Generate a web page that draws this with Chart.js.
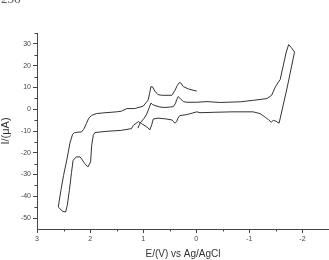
<!DOCTYPE html>
<html><head><meta charset="utf-8">
<script src="https://cdn.jsdelivr.net/npm/chart.js@4/dist/chart.umd.min.js"></script>
<style>
html,body{margin:0;padding:0;background:#fff;overflow:hidden}
#wrap{position:relative;width:329px;height:260px}
#note{position:absolute;left:1px;top:-8px;font:13px "Liberation Serif",serif;color:#555;line-height:13px}
</style></head><body>
<div id="wrap"><canvas id="c" width="329" height="260"></canvas><div id="note">256</div></div>
<script>
// Cyclic voltammogram trace, E in V vs Ag/AgCl, I in µA (in scan order)
const potential = [
 1.10,1.06,0.99,0.94,0.89,0.855,0.82,0.78,0.685,0.59,0.50,0.43,0.39,0.37,0.34,0.31,0.245,0.175,-0.01,-0.20,-0.45,-0.83,-1.08,-1.33,-1.42,-1.49,-1.55,-1.58,-1.64,-1.69,-1.74,-1.79,-1.85,
 -1.71,-1.56,-1.50,-1.45,-1.41,-1.36,-1.30,-1.20,-1.07,-0.69,-0.35,-0.07,
 -0.01,0.12,0.21,0.31,0.345,0.37,0.40,0.44,0.46,0.59,0.72,0.81,0.84,0.875,0.91,0.94,1.025,1.09,1.185,
 1.22,1.41,1.66,1.91,1.94,1.97,1.99,2.04,2.10,2.16,2.19,2.26,2.32,2.35,2.39,2.43,2.46,2.515,2.60,
 2.55,2.50,2.44,2.38,2.33,2.29,2.16,2.12,2.07,2.025,1.97,1.88,1.76,1.50,1.41,1.31,1.16,1.00,0.94,0.905,0.875,0.855,0.825,0.78,0.72,0.65,0.46,0.40,0.36,0.32,0.29,0.245,0.15,-0.01
];
const current = [
 -8.7,-6.4,-4.4,-2.6,0.5,2.8,2.1,1.7,1.0,0.8,1.0,1.2,2.8,4.3,5.8,5.1,3.5,3.2,3.2,3.5,3.1,3.4,4.1,4.9,6.4,10.3,12.6,13.6,20.2,25.8,29.7,28.3,26.2,
 9.7,-6.4,-5.5,-5.1,-6.0,-4.8,-3.7,-2.0,-1.2,-1.2,-1.4,-1.6,
 -1.2,-2.1,-2.6,-2.9,-4.1,-5.7,-6.4,-5.5,-4.9,-4.4,-4.1,-4.5,-7.2,-9.5,-8.5,-8.0,-6.7,-5.7,-7.4,
 -8.9,-9.7,-10.1,-10.7,-12.0,-16.6,-24.2,-26.5,-25.0,-22.8,-21.9,-21.9,-23.5,-29.0,-37.3,-44.2,-47.2,-46.9,-44.9,
 -37.3,-30.4,-23.5,-15.6,-11.5,-10.7,-10.4,-9.2,-6.6,-4.1,-2.8,-2.0,-1.7,-1.2,-0.9,0.3,0.3,1.4,3.2,4.3,7.8,10.3,10.3,8.3,6.7,6.4,6.4,8.7,10.8,12.2,12.0,10.4,9.3,8.3
];
const xTicks = [3,2,1,0,-1,-2];
const xMinorTicks = [2.5,1.5,0.5,-0.5,-1.5];
const yTicks = [30,20,10,0,-10,-20,-30,-40,-50];
const yMinorTicks = [35,25,15,5,-5,-15,-25,-35,-45];

const FONT = 'Liberation Sans, Arial, sans-serif';
const AX = '#444';

const minorTicks = {
  id: 'minorTicks',
  afterDraw(chart) {
    const {ctx, scales: {x, y}} = chart;
    ctx.save();
    ctx.strokeStyle = AX; ctx.lineWidth = 1;
    ctx.beginPath();
    xMinorTicks.forEach(v => { const p = Math.round(x.getPixelForValue(v)) + 0.5; ctx.moveTo(p, x.top); ctx.lineTo(p, x.top + 2.5); });
    yMinorTicks.forEach(v => { const p = Math.round(y.getPixelForValue(v)) + 0.5; ctx.moveTo(y.right, p); ctx.lineTo(y.right - 2.5, p); });
    ctx.stroke();
    ctx.restore();
  }
};

new Chart(document.getElementById('c'), {
  type: 'scatter',
  data: {
    datasets: [{
      data: potential.map((e, i) => ({x: e, y: current[i]})),
      showLine: true, borderColor: '#333', borderWidth: 1, pointRadius: 0, tension: 0, fill: false
    }]
  },
  options: {
    responsive: false, animation: false, devicePixelRatio: 1,
    layout: {padding: {top: 33, right: 0, bottom: 0, left: 0}},
    plugins: {legend: {display: false}, tooltip: {enabled: false}},
    scales: {
      x: {
        type: 'linear', reverse: true, min: -2.5, max: 3,
        afterBuildTicks: s => { s.ticks = xTicks.map(v => ({value: v})); },
        afterFit: s => { s.height = 31; },
        grid: {drawOnChartArea: false, drawTicks: true, tickLength: 4, tickColor: AX, tickWidth: 1},
        border: {display: true, color: AX, width: 1},
        ticks: {font: {family: FONT, size: 7}, color: AX, padding: 2, maxRotation: 0, autoSkip: false},
        title: {display: true, text: 'E/(V) vs Ag/AgCl', font: {family: FONT, size: 10}, color: '#333', padding: {top: 0, bottom: 0}}
      },
      y: {
        type: 'linear', min: -55, max: 35,
        afterBuildTicks: s => { s.ticks = yTicks.map(v => ({value: v})); },
        afterFit: s => { s.width = 37; },
        grid: {drawOnChartArea: false, drawTicks: true, tickLength: 4, tickColor: AX, tickWidth: 1},
        border: {display: true, color: AX, width: 1},
        ticks: {font: {family: FONT, size: 7}, color: AX, padding: 2, autoSkip: false},
        title: {display: true, text: 'I/(μA)', font: {family: FONT, size: 11, lineHeight: 1}, color: '#333', padding: 0}
      }
    }
  },
  plugins: [minorTicks]
});
</script>
</body></html>
